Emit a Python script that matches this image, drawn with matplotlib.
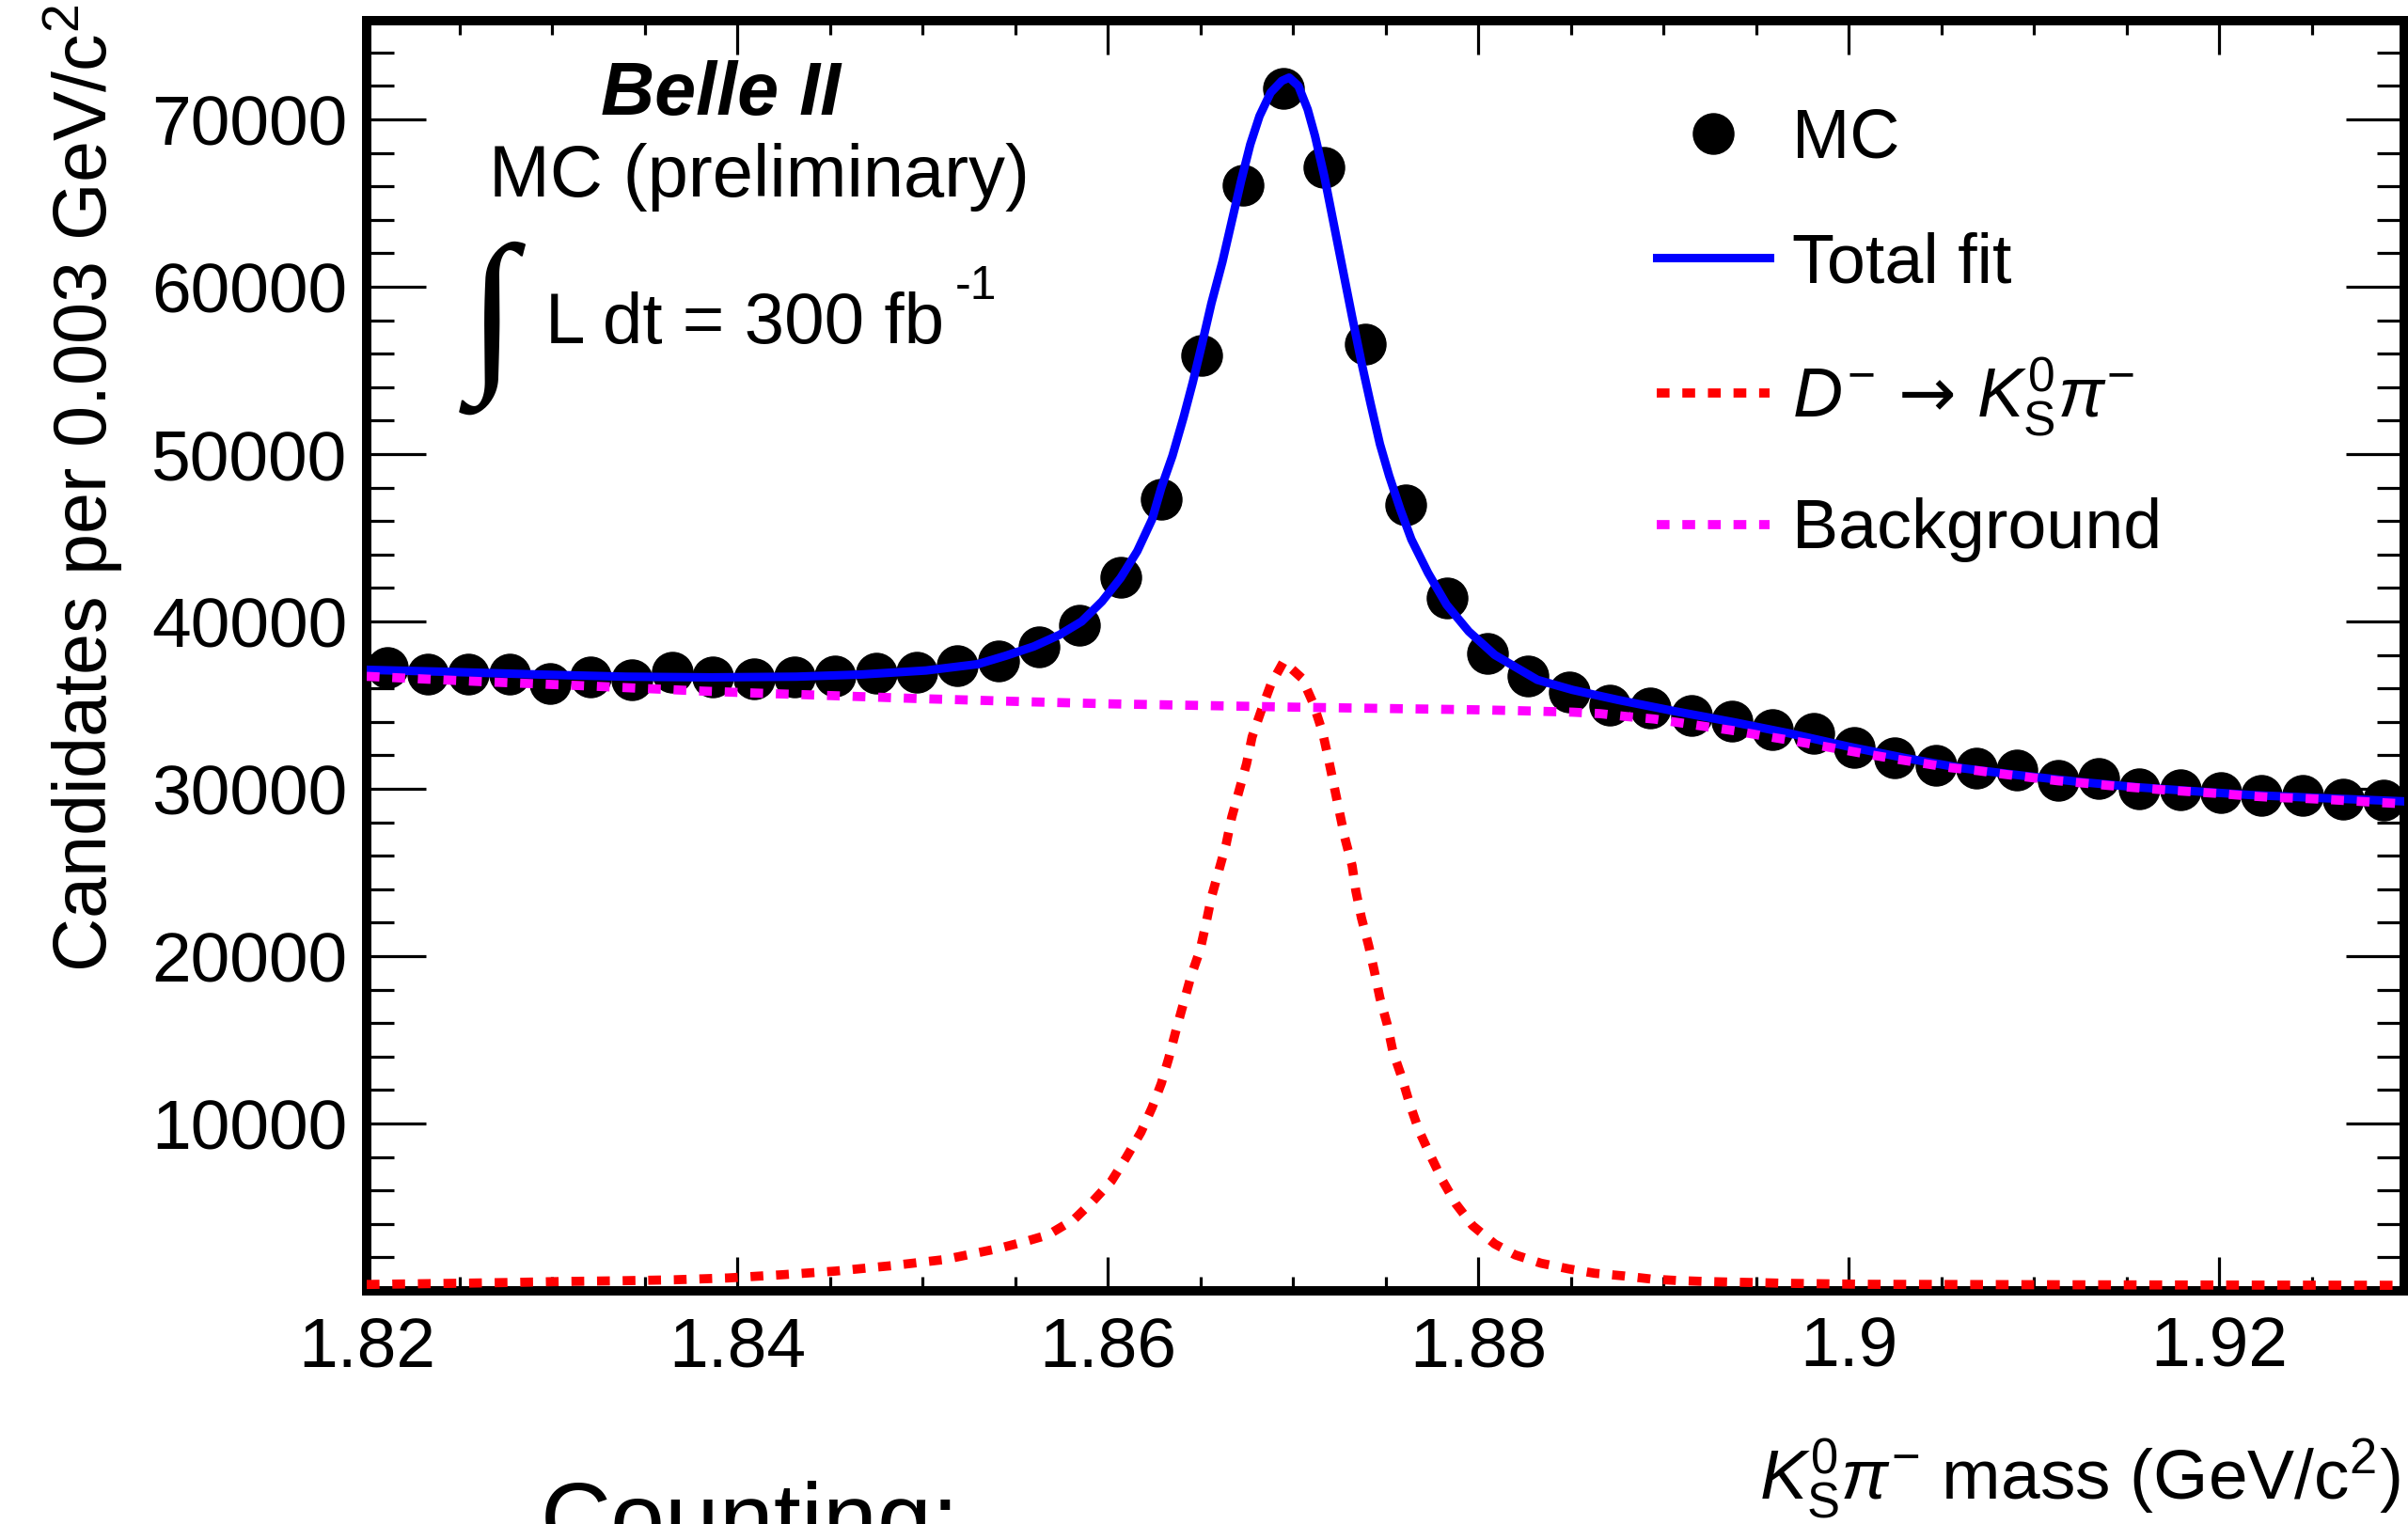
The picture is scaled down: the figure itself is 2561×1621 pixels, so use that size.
import numpy as np
import matplotlib
matplotlib.use('Agg')
import matplotlib.pyplot as plt
from matplotlib.ticker import MultipleLocator, FixedLocator, FixedFormatter

plt.rcParams['font.family'] = ['Liberation Sans', 'DejaVu Sans']
plt.rcParams['mathtext.fontset'] = 'custom'
plt.rcParams['mathtext.rm'] = 'Liberation Sans'
plt.rcParams['mathtext.it'] = 'Liberation Sans:italic'
plt.rcParams['mathtext.bf'] = 'Liberation Sans:bold'
plt.rcParams['mathtext.sf'] = 'DejaVu Sans'

# MC histogram: 50 bins of 0.0022 GeV between 1.82 and 1.93
bin_lo = 1.82
bin_w = 0.0022
mc_counts = [37220, 36830, 36830, 36830, 36270, 36700, 36510, 36940, 36700, 36600,
             36700, 36740, 36890, 36980, 37360, 37640, 38480, 39800, 42640, 47310,
             55900, 66090, 71830, 67140, 56550, 46980, 41430, 38100, 36740, 35800,
             35010, 34860, 34360, 34040, 33550, 33290, 32480, 31830, 31410, 31210,
             31110, 30480, 30610, 29990, 29920, 29800, 29580, 29620, 29390, 29350]
mc_x = bin_lo + bin_w * (np.arange(len(mc_counts)) + 0.5)

# total fit (blue)
fit_x = [1.8200, 1.8247, 1.8293, 1.8340, 1.8386, 1.8432, 1.8467, 1.8502, 1.8530, 1.8545,
         1.8560, 1.8574, 1.8586, 1.8597, 1.8607, 1.8616, 1.8624, 1.8629, 1.8635, 1.8641,
         1.8646, 1.8651, 1.8656, 1.8662, 1.8667, 1.8672, 1.8677, 1.8682, 1.8688, 1.8694,
         1.8698, 1.8703, 1.8708, 1.8712, 1.8717, 1.8722, 1.8727, 1.8732, 1.8737, 1.8742,
         1.8747, 1.8752, 1.8758, 1.8764, 1.8773, 1.8783, 1.8795, 1.8809, 1.8832, 1.8851,
         1.8876, 1.8906, 1.8938, 1.8969, 1.9000, 1.9031, 1.9062, 1.9093, 1.9124, 1.9155,
         1.9186, 1.9217, 1.9248, 1.9300]
fit_y = [37110, 36980, 36830, 36700, 36660, 36700, 36830, 37070, 37450, 37950,
         38500, 39200, 40000, 41200, 42600, 44200, 46100, 48000, 49900, 52200,
         54300, 56600, 59000, 61500, 63900, 66300, 68500, 70200, 71600, 72300,
         72500, 72000, 70600, 69000, 66600, 63800, 61000, 58200, 55500, 53000,
         50600, 48700, 46700, 44900, 42900, 41000, 39400, 38000, 36510, 35910,
         35300, 34640, 33980, 33290, 32520, 31830, 31220, 30800, 30420, 30100,
         29860, 29630, 29480, 29250]

# signal component (red)
sig_x = [1.8200, 1.8219, 1.8248, 1.8278, 1.8307, 1.8336, 1.8366, 1.8395, 1.8424, 1.8453,
         1.8483, 1.8512, 1.8541, 1.8556, 1.8568, 1.8582, 1.8592, 1.8602, 1.8610, 1.8618,
         1.8624, 1.8629, 1.8633, 1.8637, 1.8641, 1.8645, 1.8650, 1.8653, 1.8656, 1.8660,
         1.8664, 1.8667, 1.8671, 1.8675, 1.8678, 1.8683, 1.8688, 1.8695, 1.8705, 1.8711,
         1.8716, 1.8719, 1.8722, 1.8725, 1.8728, 1.8732, 1.8734, 1.8737, 1.8741, 1.8744,
         1.8747, 1.8751, 1.8754, 1.8759, 1.8763, 1.8768, 1.8774, 1.8781, 1.8788, 1.8797,
         1.8809, 1.8820, 1.8834, 1.8849, 1.8863, 1.8878, 1.8893, 1.8907, 1.8922, 1.8937,
         1.8952, 1.8966, 1.8996, 1.9011, 1.9124, 1.9300]
sig_y = [380, 410, 450, 500, 560, 600, 660, 770, 960, 1180,
         1500, 1870, 2530, 2960, 3350, 4280, 5350, 6550, 7960, 9480,
         10950, 12400, 13900, 15600, 17200, 18800, 20400, 21900, 23500, 25100,
         26700, 28300, 29900, 31500, 33100, 34700, 36200, 37600, 36600, 35100,
         33400, 31900, 30300, 28700, 27100, 25400, 23900, 22300, 20600, 19100,
         17500, 15900, 14300, 12700, 11200, 9600, 8150, 6550, 5200, 3900,
         2800, 2150, 1650, 1310, 1050, 900, 710, 620, 560, 520,
         490, 450, 410, 390, 360, 330]

# background component (magenta)
bkg_x = [1.8200, 1.8233, 1.8263, 1.8292, 1.8321, 1.8351, 1.8381, 1.8410, 1.8440, 1.8469,
         1.8498, 1.8527, 1.8557, 1.8600, 1.8650, 1.8700, 1.8750, 1.8800, 1.8821, 1.8851,
         1.8866, 1.8880, 1.8895, 1.8910, 1.8924, 1.8939, 1.8953, 1.8968, 1.8983, 1.8997,
         1.9011, 1.9026, 1.9041, 1.9055, 1.9070, 1.9084, 1.9098, 1.9113, 1.9128, 1.9142,
         1.9157, 1.9172, 1.9186, 1.9201, 1.9215, 1.9230, 1.9245, 1.9260, 1.9274, 1.9288,
         1.9300]
bkg_y = [36720, 36550, 36400, 36270, 36140, 35990, 35840, 35720, 35610, 35500,
         35390, 35300, 35200, 35080, 34980, 34880, 34800, 34720, 34670, 34580,
         34490, 34320, 34170, 33930, 33700, 33460, 33180, 32910, 32610, 32330,
         32050, 31770, 31510, 31260, 31080, 30870, 30680, 30480, 30330, 30180,
         30050, 29920, 29820, 29710, 29580, 29480, 29430, 29350, 29260, 29170,
         29100]

x_ticks = [1.82, 1.84, 1.86, 1.88, 1.90, 1.92]
x_ticklabels = ['1.82', '1.84', '1.86', '1.88', '1.9', '1.92']
y_ticks = [10000, 20000, 30000, 40000, 50000, 60000, 70000]

W, H = 2561, 1621


def fx(px):
    return px / W


def fy(py):
    return 1 - py / H


fig = plt.figure(figsize=(W / 100, H / 100), dpi=100)
ax = fig.add_axes([fx(390), fy(1373), fx(2557) - fx(390), fy(22) - fy(1373)])

dot = (0, (1.4, 1.4))
ax.plot(mc_x, mc_counts, 'o', color='black', markersize=31, label='MC', zorder=2)
ax.plot(fit_x, fit_y, color='#0000ff', lw=6.5, label='Total fit', zorder=3)
ax.plot(sig_x, sig_y, color='#ff0000', lw=7, linestyle=dot, dash_capstyle='butt',
        label=r'$D^{-}\,\mathsf{\rightarrow}\, K^{0}_{\mathrm{S}}\pi^{-}$', zorder=4)
ax.plot(bkg_x, bkg_y, color='#ff00ff', lw=7, linestyle=dot, dash_capstyle='butt',
        label='Background', zorder=5)

ax.set_xlim(1.82, 1.93)
ax.set_ylim(0, 75900)

ax.xaxis.set_major_locator(FixedLocator(x_ticks))
ax.xaxis.set_major_formatter(FixedFormatter(x_ticklabels))
ax.xaxis.set_minor_locator(MultipleLocator(0.005))
ax.yaxis.set_major_locator(FixedLocator(y_ticks))
ax.yaxis.set_minor_locator(MultipleLocator(2000))

ax.tick_params(which='both', direction='in', top=True, right=True, width=2.3,
               labelsize=54, color='black')
ax.tick_params(axis='x', which='major', length=26, pad=19)
ax.tick_params(axis='x', which='minor', length=11)
ax.tick_params(axis='y', which='major', length=45, pad=15)
ax.tick_params(axis='y', which='minor', length=21)
for s in ax.spines.values():
    s.set_linewidth(7.2)

leg = ax.legend(loc='upper left', bbox_to_anchor=(0.633, 0.932), frameon=False,
                fontsize=53, handlelength=1.63, handletextpad=0.33,
                labelspacing=0.86, borderpad=0, borderaxespad=0)

# axis titles
fig.text(fx(2552), fy(1595), r'$K^{0}_{\mathrm{S}}\pi^{-}$ mass (GeV/c$^{2}$)',
         fontsize=54, ha='right', va='baseline')
fig.text(fx(88), fy(5), r'Candidates per 0.003 GeV/c$^{2}$', fontsize=57,
         rotation=90, ha='center', va='top')

# labels inside the frame
fig.text(fx(767), fy(122), 'Belle II', fontsize=57, fontweight='bold',
         fontstyle='italic', ha='center', va='baseline')
fig.text(fx(808), fy(209), 'MC (preliminary)', fontsize=56, ha='center', va='baseline')
fig.text(fx(523), fy(349), '\u222b', fontsize=135, fontweight='bold',
         family=['Liberation Serif', 'DejaVu Serif'], ha='center', va='center')
fig.text(fx(580), fy(365), 'L dt = 300 fb', fontsize=55, ha='left', va='baseline')
fig.text(fx(1016), fy(318), '-1', fontsize=36, ha='left', va='baseline')

fig.text(fx(575), fy(1650), 'Counting:', fontsize=75, ha='left', va='baseline')

fig.savefig('out.png', dpi=100)
